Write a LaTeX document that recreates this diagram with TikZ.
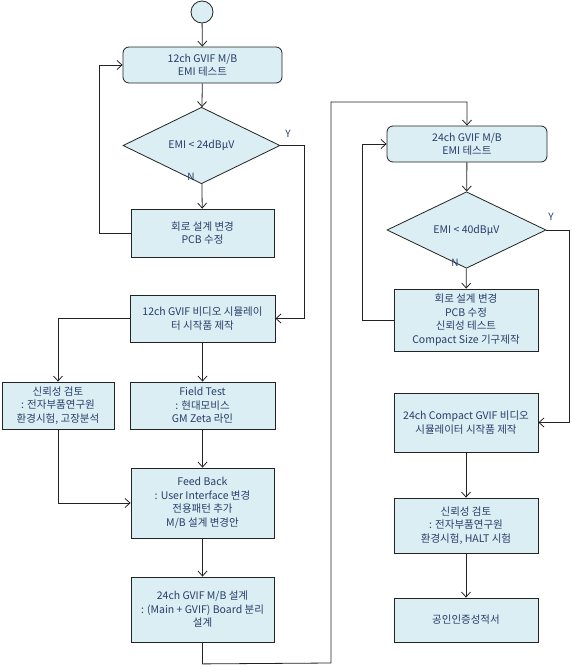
\documentclass[tikz,border=0pt]{standalone}
\usepackage{fontspec}
\setmainfont{Noto Sans CJK KR}
\usetikzlibrary{positioning, shapes.geometric, arrows.meta}
\definecolor{boxfill}{RGB}{218,238,243}
\definecolor{boxtext}{RGB}{40,62,105}
\definecolor{boxline}{RGB}{35,35,35}

\begin{document}
\begin{tikzpicture}[x=1pt,y=-1pt,
    font=\fontsize{10.5}{13.5}\selectfont,
    flow/.style={draw=boxline, line width=0.8pt, -{Straight Barb[length=5pt,width=9pt]}},
    stepbox/.style={rectangle, draw=boxline, line width=0.8pt, fill=boxfill,
      text=boxtext, align=center, inner sep=1pt},
    roundbox/.style={stepbox, rounded corners=6pt},
    decision/.style={diamond, draw=boxline, line width=0.8pt, fill=boxfill,
      text=boxtext, inner sep=0pt},
    yn/.style={text=boxtext, font=\fontsize{10}{11}\selectfont}]
  \useasboundingbox (0,0) rectangle (572,667);
  % left column
  \node (start) [circle, draw=boxline, line width=0.8pt, fill=boxfill, minimum size=22pt, inner sep=0pt] at (202,12) {};
  \node (emi12) [roundbox, minimum width=159pt, minimum height=36pt] at (202.5,65) {12ch GVIF M/B\\EMI 테스트};
  \node (chk12) [decision, minimum width=157pt, minimum height=45pt] at (201.5,145.5) {EMI < 24dBμV};
  \node (fix12) [stepbox, minimum width=143pt, minimum height=48pt] at (202.5,233) {회로 설계 변경\\PCB 수정};
  \node (proto12) [stepbox, minimum width=145pt, minimum height=47pt] at (202.5,318.5) {12ch GVIF 비디오 시뮬레이\\터 시작품 제작};
  \node (rel12) [stepbox, minimum width=112pt, minimum height=47pt] at (58,405.5) {신뢰성 검토\\: 전자부품연구원\\환경시험, 고장분석};
  \node (field) [stepbox, minimum width=145pt, minimum height=47pt] at (202.5,405.5) {Field Test\\: 현대모비스\\GM Zeta 라인};
  \node (feed) [stepbox, minimum width=143pt, minimum height=70pt] at (202.5,503) {Feed Back\\: User Interface 변경\\전용패턴 추가\\M/B 설계 변경안};
  \node (design24) [stepbox, minimum width=143pt, minimum height=65pt] at (202.5,609.5) {24ch GVIF M/B 설계\\: (Main + GVIF) Board 분리\\설계};
  % right column
  \node (emi24) [roundbox, minimum width=160pt, minimum height=36pt] at (467,144) {24ch GVIF M/B\\EMI 테스트};
  \node (chk24) [decision, minimum width=159pt, minimum height=46pt] at (466.5,230) {EMI < 40dBμV};
  \node (fix24) [stepbox, minimum width=144pt, minimum height=62pt] at (466,320) {회로 설계 변경\\PCB 수정\\신뢰성 테스트\\Compact Size 기구제작};
  \node (proto24) [stepbox, minimum width=144pt, minimum height=59pt] at (466,422.5) {24ch Compact GVIF 비디오\\시뮬레이터 시작품 제작};
  \node (rel24) [stepbox, minimum width=144pt, minimum height=55pt] at (466,525.5) {신뢰성 검토\\: 전자부품연구원\\환경시험, HALT 시험};
  \node (cert) [stepbox, minimum width=144pt, minimum height=44pt] at (466,620) {공인인증성적서};
  \coordinate (low) at (331,663);
  \coordinate (high) at (331,102);
  % connectors
  \draw[flow] (start) -- (emi12);
  \draw[flow] (emi12) -- (chk12);
  \draw[flow] (chk12) -- (fix12);
  \draw[flow] (fix12.west) -- ++(-31,0) |- (emi12.west);
  \draw[flow] (chk12.east) -- ++(24,0) |- (proto12.east);
  \node[yn] (y12) at (288,134) {Y};
  \node[yn] (n12) at (191,177) {N};
  \draw[flow] (proto12.west) -| (rel12.north);
  \draw[flow] (proto12) -- (field);
  \draw[flow] (field) -- (feed);
  \draw[flow] (rel12.south) |- (feed.west);
  \draw[flow] (feed) -- (design24);
  \draw[flow] (design24.south) -- ++(0,21.5) -- (low) -- (high) -| (emi24.north);
  \draw[flow] (emi24) -- (chk24);
  \draw[flow] (chk24) -- (fix24);
  \draw[flow] (fix24.west) -- ++(-31,0) |- (emi24.west);
  \draw[flow] (chk24.east) -- ++(23,0) |- (proto24.east);
  \node[yn] (y24) at (551,217) {Y};
  \node[yn] (n24) at (455,263) {N};
  \draw[flow] (proto24) -- (rel24);
  \draw[flow] (rel24) -- (cert);
\end{tikzpicture}
\end{document}
